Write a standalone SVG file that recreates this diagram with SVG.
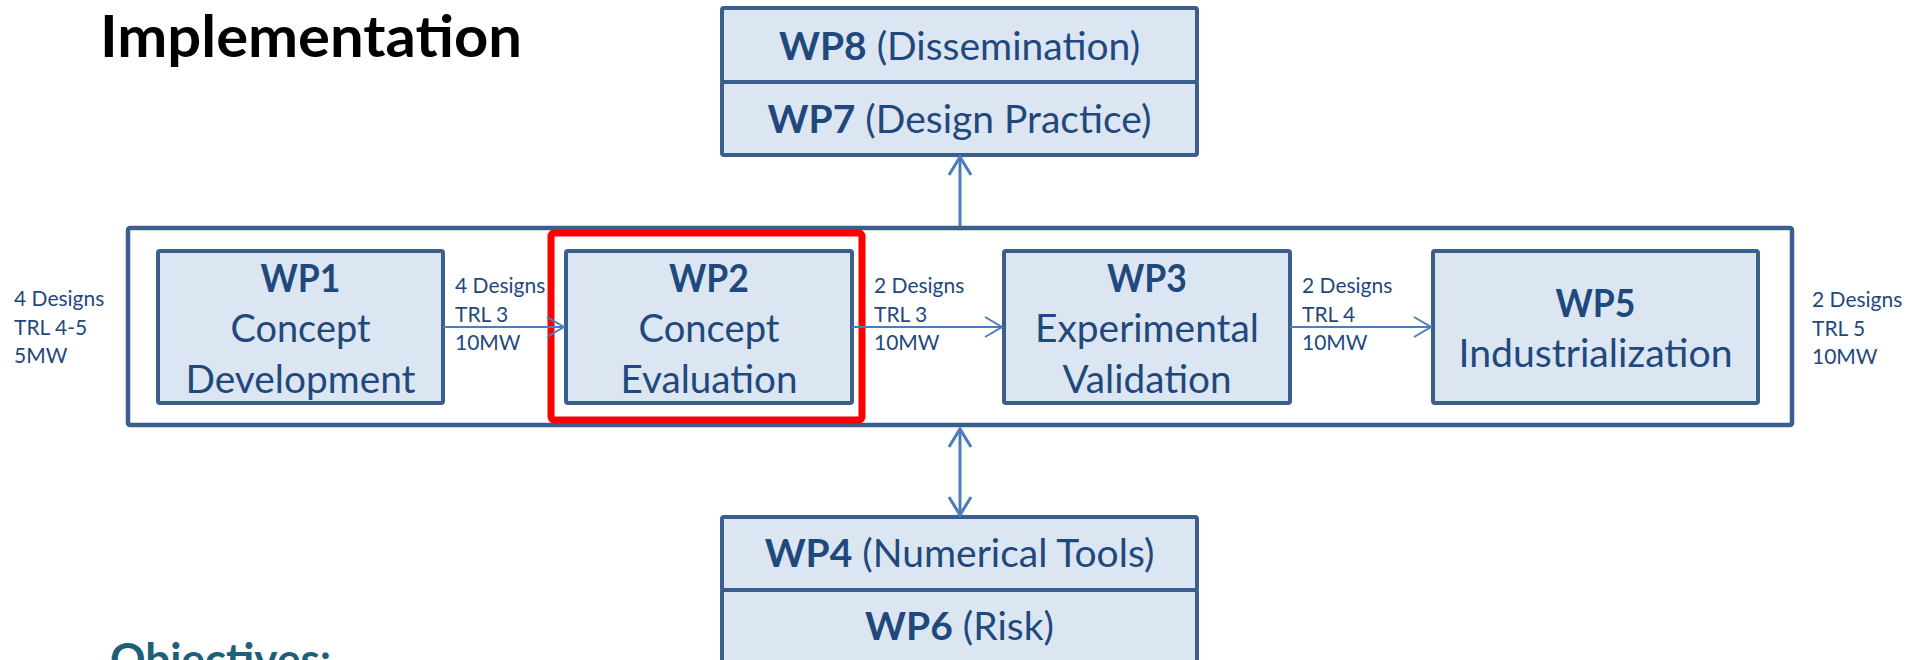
<svg xmlns="http://www.w3.org/2000/svg" width="1907" height="660" viewBox="0 0 1907 660">
<defs>
<style>
.box{fill:#dce6f2;stroke:#3b5f8c;stroke-width:4;}
.wp{font-family:Lato,"Open Sans",sans-serif;font-size:38px;fill:#1f497d;text-anchor:middle;}
.bar{font-family:Lato,"Open Sans",sans-serif;font-size:39px;fill:#1f497d;text-anchor:middle;}
.lbl{font-family:Lato,"Open Sans",sans-serif;font-size:21px;fill:#1f497d;}
.b{font-weight:bold;}
.con{stroke:#4a7ebb;fill:none;}
</style>
<marker id="ah" markerUnits="userSpaceOnUse" markerWidth="22" markerHeight="26" viewBox="0 0 22 26" refX="19" refY="13" orient="auto-start-reverse">
<path d="M2,3 L19,13 L2,23" fill="none" stroke="#4a7ebb" stroke-width="2"/>
</marker>
<marker id="ahv" markerUnits="userSpaceOnUse" markerWidth="24" markerHeight="28" viewBox="0 0 24 28" refX="20" refY="14" orient="auto-start-reverse">
<path d="M2,3 L20,14 L2,25" fill="none" stroke="#4a7ebb" stroke-width="3"/>
</marker>
</defs>
<rect width="1907" height="660" fill="#ffffff"/>
<text x="100" y="57" font-family="Lato,'Liberation Sans',sans-serif" font-weight="bold" font-size="57" fill="#000000" textLength="422" lengthAdjust="spacingAndGlyphs">Implementation</text>
<text x="110" y="675" font-family="Lato,'Liberation Sans',sans-serif" font-weight="bold" font-size="44" fill="#1e6079">Objectives:</text>

<g id="outer"><rect x="128" y="228" width="1664" height="197" rx="2" fill="none" stroke="#3b5f8c" stroke-width="4.5"/></g>

<g id="wp8"><rect class="box" x="722" y="8" width="475" height="74" rx="2"/><text class="bar" x="959.5" y="60"><tspan class="b">WP8</tspan> (Dissemination)</text></g>
<g id="wp7"><rect class="box" x="722" y="82" width="475" height="73" rx="2"/><text class="bar" x="959.5" y="133"><tspan class="b">WP7</tspan> (Design Practice)</text></g>

<g id="wp1"><rect class="box" x="158" y="251" width="285" height="152" rx="2"/>
<text class="wp b" x="300.5" y="292" textLength="80" lengthAdjust="spacingAndGlyphs">WP1</text>
<text class="wp" x="300.5" y="342" textLength="140" lengthAdjust="spacingAndGlyphs">Concept</text>
<text class="wp" x="300.5" y="393" textLength="230" lengthAdjust="spacingAndGlyphs">Development</text></g>

<g id="wp2"><rect class="box" x="566" y="251" width="286" height="152" rx="2"/>
<text class="wp b" x="709" y="292" textLength="80" lengthAdjust="spacingAndGlyphs">WP2</text>
<text class="wp" x="709" y="342" textLength="141" lengthAdjust="spacingAndGlyphs">Concept</text>
<text class="wp" x="709" y="393" textLength="177" lengthAdjust="spacingAndGlyphs">Evaluation</text></g>
<g id="highlight"><rect x="551" y="233" width="311" height="187" rx="3" fill="none" stroke="#ff0000" stroke-width="7"/></g>

<g id="wp3"><rect class="box" x="1004" y="251" width="286" height="152" rx="2"/>
<text class="wp b" x="1147" y="292" textLength="80" lengthAdjust="spacingAndGlyphs">WP3</text>
<text class="wp" x="1147" y="342" textLength="224" lengthAdjust="spacingAndGlyphs">Experimental</text>
<text class="wp" x="1147" y="393" textLength="169" lengthAdjust="spacingAndGlyphs">Validation</text></g>

<g id="wp5"><rect class="box" x="1433" y="251" width="325" height="152" rx="2"/>
<text class="wp b" x="1595.5" y="317" textLength="80" lengthAdjust="spacingAndGlyphs">WP5</text>
<text class="wp" x="1595.5" y="367" textLength="274" lengthAdjust="spacingAndGlyphs">Industrialization</text></g>

<g id="wp4"><rect class="box" x="722" y="517" width="475" height="73" rx="2"/><text class="bar" x="959.5" y="567"><tspan class="b">WP4</tspan> (Numerical Tools)</text></g>
<g id="wp6"><rect class="box" x="722" y="590" width="475" height="80" rx="2"/><text class="bar" x="959.5" y="640"><tspan class="b">WP6</tspan> (Risk)</text></g>

<g id="connectors">
<line class="con" x1="443" y1="327" x2="564" y2="327" stroke-width="2" marker-end="url(#ah)"/>
<line class="con" x1="852" y1="327" x2="1002" y2="327" stroke-width="2" marker-end="url(#ah)"/>
<line class="con" x1="1290" y1="327" x2="1431" y2="327" stroke-width="2" marker-end="url(#ah)"/>
<line class="con" x1="960" y1="226" x2="960" y2="157" stroke-width="3" marker-end="url(#ahv)"/>
<line class="con" x1="960" y1="429" x2="960" y2="515" stroke-width="3" marker-start="url(#ahv)" marker-end="url(#ahv)"/>
</g>

<g id="labels">
<text class="lbl"><tspan x="14" y="306">4 Designs</tspan><tspan x="14" y="335">TRL 4-5</tspan><tspan x="14" y="363">5MW</tspan></text>
<text class="lbl"><tspan x="455" y="293">4 Designs</tspan><tspan x="455" y="322">TRL 3</tspan><tspan x="455" y="350">10MW</tspan></text>
<text class="lbl"><tspan x="874" y="293">2 Designs</tspan><tspan x="874" y="322">TRL 3</tspan><tspan x="874" y="350">10MW</tspan></text>
<text class="lbl"><tspan x="1302" y="293">2 Designs</tspan><tspan x="1302" y="322">TRL 4</tspan><tspan x="1302" y="350">10MW</tspan></text>
<text class="lbl"><tspan x="1812" y="307">2 Designs</tspan><tspan x="1812" y="336">TRL 5</tspan><tspan x="1812" y="364">10MW</tspan></text>
</g>
</svg>
